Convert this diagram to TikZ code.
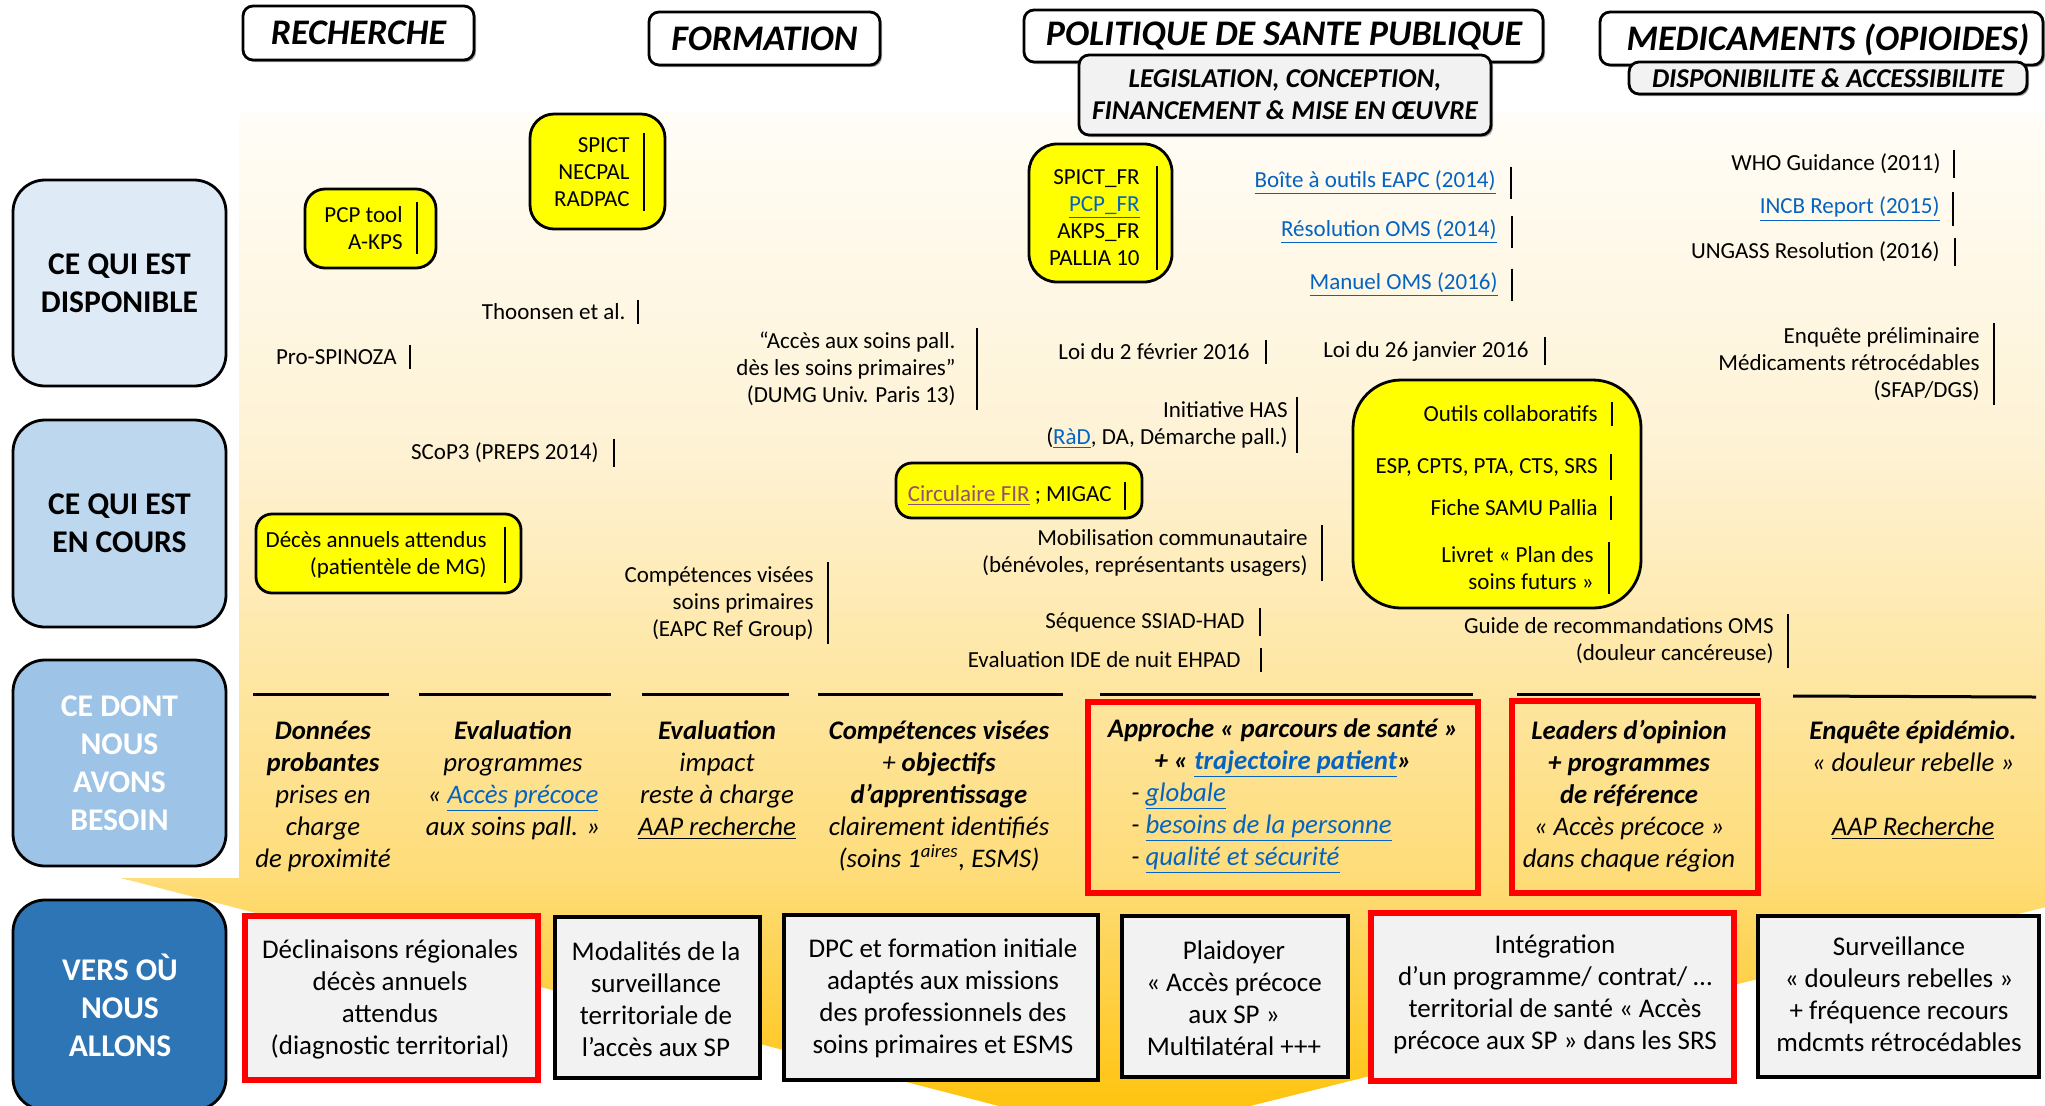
\documentclass[tikz,border=0pt]{standalone}
\usepackage{fontspec}
\setmainfont{Carlito}
\usetikzlibrary{calc,fit,shadows}
\definecolor{linkblue}{HTML}{0563C1}
\definecolor{linkpurple}{HTML}{954F72}
\definecolor{sideA}{HTML}{DEEBF7}
\definecolor{sideB}{HTML}{BDD7EE}
\definecolor{sideC}{HTML}{9DC3E6}
\definecolor{sideD}{HTML}{2E75B6}
\definecolor{boxgray}{HTML}{F2F2F2}
\definecolor{bgA}{HTML}{FFFDF7}
\definecolor{bgB}{HTML}{FEF2D4}
\definecolor{bgC}{HTML}{FEDC78}
\definecolor{bgD}{HTML}{FFC000}
\definecolor{ylw}{HTML}{FFFF00}
\newcommand{\lnk}[1]{\textcolor{linkblue}{\underline{#1}}}
\newcommand{\refitem}[5]{\node[ref] (#1) at (#2,#3) {#5};
  \draw[bar] ($(#1.north east)+(#4,0)$) -- ($(#1.south east)+(#4,0)$);}
\begin{document}
\begin{tikzpicture}[x=0.5pt,y=-0.5pt,
  ref/.style={font=\fontsize{11.5}{13.5}\selectfont, align=right, inner xsep=0pt, inner ysep=2pt, anchor=east},
  bar/.style={line width=1.3pt},
  sepline/.style={line width=1.5pt},
  hdr/.style={draw, line width=1.4pt, rounded corners=5pt, fill=white, inner sep=0pt,
    drop shadow={shadow xshift=1pt, shadow yshift=-1pt, fill=black!60, opacity=0.6}},
  hdrsub/.style={hdr, fill=boxgray},
  hdrtxt/.style={font=\fontsize{18}{20}\selectfont\bfseries\itshape, inner sep=0pt},
  subtxt/.style={font=\fontsize{13.6}{16}\selectfont\bfseries\itshape, align=center, inner sep=0pt},
  side/.style={draw, line width=1.4pt, rounded corners=16pt, inner sep=0pt},
  sidetxt/.style={font=\fontsize{15.8}{19}\selectfont\bfseries, align=center, inner sep=0pt},
  ybox/.style={draw, line width=1.4pt, fill=ylw, inner sep=0pt},
  need/.style={font=\fontsize{13.4}{16}\selectfont\itshape, align=center, inner sep=0pt},
  redbox/.style={draw=red, line width=3pt, inner sep=0pt},
  goal/.style={draw, line width=1.8pt, fill=boxgray, inner sep=0pt},
  goalred/.style={goal, draw=red, line width=3pt},
  goaltxt/.style={font=\fontsize{13.5}{16}\selectfont, align=center, inner sep=0pt}
]
\useasboundingbox (0,0) rectangle (2045,1105);

% background arrow
\begin{scope}
\clip (239,113) -- (2200,113) -- (2200,878) -- (2162,878) -- (1122,1138) -- (121,878) -- (239,878) -- cycle;
\shade[top color=bgA, bottom color=bgB] (0,112) rectangle (2200,451);
\shade[top color=bgB, bottom color=bgC] (0,450) rectangle (2200,879);
\shade[top color=bgC, bottom color=bgD] (0,878) rectangle (2200,1140);
\end{scope}

% headers
\node[hdr, fit={(243,6) (474,60)}] (hRech) {};
\node[hdrtxt] (tRech) at (hRech.center) {RECHERCHE};
\node[hdr, fit={(649,12) (880,65)}] (hForm) {};
\node[hdrtxt] (tForm) at (hForm.center) {FORMATION};
\node[hdr, fit={(1024,10) (1543,62)}] (hPol) {};
\node[hdrtxt] (tPol) at (1284,36) {POLITIQUE DE SANTE PUBLIQUE};
\node[hdrsub, fit={(1079,55) (1491,135)}] (hLeg) {};
\node[subtxt] (tLeg) at (hLeg.center) {LEGISLATION, CONCEPTION,\\FINANCEMENT \& MISE EN ŒUVRE};
\node[hdr, fit={(1600,12) (2043,65)}] (hMed) {};
\node[hdrtxt] (tMed) at (1828,40) {MEDICAMENTS (OPIOIDES)};
\node[hdrsub, fit={(1629,62) (2027,94)}] (hDisp) {};
\node[subtxt] (tDisp) at (hDisp.center) {DISPONIBILITE \& ACCESSIBILITE};

% side labels
\node[side, fill=sideA, fit={(13,180) (226,386)}] (sA) {};
\node[sidetxt] (tsA) at (sA.center) {CE QUI EST\\DISPONIBLE};
\node[side, fill=sideB, fit={(13,420) (226,627)}] (sB) {};
\node[sidetxt] (tsB) at (sB.center) {CE QUI EST\\EN COURS};
\node[side, fill=sideC, fit={(13,660) (226,866)}] (sC) {};
\node[sidetxt, text=white] (tsC) at (sC.center) {CE DONT\\NOUS\\AVONS\\BESOIN};
\node[side, fill=sideD, fit={(13,900) (226,1110)}] (sD) {};
\node[sidetxt, text=white] (tsD) at (120,1005) {VERS OÙ\\NOUS\\ALLONS};

% yellow boxes
\node[ybox, rounded corners=10pt, fit={(305,189) (436,268)}] (yPCP) {};
\node[ybox, rounded corners=12pt, fit={(530,114) (665,229)}] (ySPICT) {};
\node[ybox, rounded corners=14pt, fit={(1029,144) (1172,282)}] (ySPFR) {};
\node[ybox, rounded corners=8pt, fit={(896,463) (1142,518)}] (yFIR) {};
\node[ybox, rounded corners=8pt, fit={(256,514) (521,593)}] (yDeces) {};
\node[ybox, rounded corners=24pt, fit={(1353,380) (1641,608)}] (yOut) {};

% references
\refitem{tPCP}{403}{228}{14}{PCP tool\\A-KPS}
\refitem{tSPICT}{630}{172}{14}{SPICT\\NECPAL\\RADPAC}
\refitem{tThoon}{626}{312}{12}{Thoonsen et al.}
\refitem{tPro}{397}{357}{13}{Pro-SPINOZA}
\refitem{tAcces}{956}{369}{21}{“Accès aux soins pall.\\dès les soins primaires”\\(DUMG Univ. Paris 13)}
\refitem{tSCoP}{599}{453}{15}{SCoP3 (PREPS 2014)}
\refitem{tDeces}{487}{555}{18}{Décès annuels attendus\\(patientèle de MG)}
\refitem{tComp}{814}{603}{14}{Compétences visées\\soins primaires\\(EAPC Ref Group)}
\refitem{tSPFR}{1140}{218}{17}{SPICT\_FR\\\lnk{PCP\_FR}\\AKPS\_FR\\PALLIA 10}
\refitem{tEAPC}{1496}{183}{15}{\lnk{Boîte à outils EAPC (2014)}}
\refitem{tResol}{1497}{232}{15}{\lnk{Résolution OMS (2014)}}
\refitem{tManuel}{1498}{285}{14}{\lnk{Manuel OMS (2016)}}
\refitem{tLoiA}{1250}{352}{16}{Loi du 2 février 2016}
\refitem{tLoiB}{1529}{351}{16}{Loi du 26 janvier 2016}
\refitem{tHAS}{1288}{425}{9}{Initiative HAS\\(\lnk{RàD}, DA, Démarche pall.)}
\refitem{tFIR}{1112}{496}{13}{\textcolor{linkpurple}{\underline{Circulaire FIR}} ; MIGAC}
\refitem{tMob}{1308}{553}{14}{Mobilisation communautaire\\(bénévoles, représentants usagers)}
\refitem{tSSIAD}{1245}{622}{15}{Séquence SSIAD-HAD}
\refitem{tEHPAD}{1241}{660}{20}{Evaluation IDE de nuit EHPAD}
\refitem{tWHO}{1941}{164}{13}{WHO Guidance (2011)}
\refitem{tINCB}{1940}{209}{13}{\lnk{INCB Report (2015)}}
\refitem{tUNG}{1940}{252}{15}{UNGASS Resolution (2016)}
\refitem{tEnq}{1980}{364}{14}{Enquête préliminaire\\Médicaments rétrocédables\\(SFAP/DGS)}
\refitem{tOutA}{1598}{414}{14}{Outils collaboratifs}
\refitem{tOutB}{1598}{467}{13}{ESP, CPTS, PTA, CTS, SRS}
\refitem{tOutC}{1598}{508}{13}{Fiche SAMU Pallia}
\refitem{tOutD}{1594}{568}{15}{Livret « Plan des\\soins futurs »}
\refitem{tGuide}{1774}{641}{14}{Guide de recommandations OMS\\(douleur cancéreuse)}

% separators
\coordinate (sa1) at (253,694); \coordinate (sa2) at (389,694);
\coordinate (sb1) at (419,694); \coordinate (sb2) at (611,694);
\coordinate (sc1) at (642,694); \coordinate (sc2) at (789,694);
\coordinate (sd1) at (818,694); \coordinate (sd2) at (1063,694);
\coordinate (se1) at (1100,694); \coordinate (se2) at (1473,694);
\coordinate (sf1) at (1517,694); \coordinate (sf2) at (1760,694);
\coordinate (sg1) at (1793,696); \coordinate (sg2) at (2036,697);
\draw[sepline] (sa1) -- (sa2);
\draw[sepline] (sb1) -- (sb2);
\draw[sepline] (sc1) -- (sc2);
\draw[sepline] (sd1) -- (sd2);
\draw[sepline] (se1) -- (se2);
\draw[sepline] (sf1) -- (sf2);
\draw[sepline] (sg1) -- (sg2);

% needs row
\node[need] (nA) at (323,796) {\textbf{Données}\\\textbf{probantes}\\prises en\\charge\\de proximité};
\node[need] (nB) at (513,780) {\textbf{Evaluation}\\programmes\\« \lnk{Accès précoce}\\aux soins pall. »};
\node[need] (nC) at (717,780) {\textbf{Evaluation}\\impact\\reste à charge\\\underline{AAP recherche}};
\node[need] (nD) at (939,796) {\textbf{Compétences visées}\\+ \textbf{objectifs}\\\textbf{d’apprentissage}\\clairement identifiés\\(soins 1\textsuperscript{aires}, ESMS)};
\node[redbox, fit={(1088,702) (1478,893)}] (rE) {};
\node[need] (nE) at (1283,748) {\textbf{Approche « parcours de santé »}\\\textbf{+ « \lnk{trajectoire patient}»}};
\node[need, align=left, anchor=west] (nE2) at (1131,828) {- \lnk{globale}\\- \lnk{besoins de la personne}\\- \lnk{qualité et sécurité}};
\node[redbox, fit={(1512,701) (1758,893)}] (rF) {};
\node[need] (nF) at (1629,796) {\textbf{Leaders d’opinion}\\\textbf{+ programmes}\\\textbf{de référence}\\« Accès précoce »\\dans chaque région};
\node[need] (nG) at (1913,780) {\textbf{Enquête épidémio.}\\« douleur rebelle »\\[16pt]\underline{AAP Recherche}};

% goals row
\node[goalred, fit={(245,916) (538,1080)}] (gA) {};
\node[goaltxt] (tgA) at (390,999) {Déclinaisons régionales\\décès annuels\\attendus\\(diagnostic territorial)};
\node[goal, fit={(555,917) (760,1078)}] (gB) {};
\node[goaltxt] (tgB) at (656,999) {Modalités de la\\surveillance\\territoriale de\\l’accès aux SP};
\node[goal, fit={(784,915) (1098,1080)}] (gC) {};
\node[goaltxt] (tgC) at (943,998) {DPC et formation initiale\\adaptés aux missions\\des professionnels des\\soins primaires et ESMS};
\node[goal, fit={(1122,916) (1348,1077)}] (gD) {};
\node[goaltxt] (tgD) at (1234,998) {Plaidoyer\\« Accès précoce\\aux SP »\\Multilatéral +++};
\node[goalred, fit={(1371,913) (1734,1081)}] (gE) {};
\node[goaltxt] (tgE) at (1555,994) {Intégration\\d’un programme/ contrat/ …\\territorial de santé « Accès\\précoce aux SP » dans les SRS};
\node[goal, fit={(1758,916) (2039,1077)}] (gF) {};
\node[goaltxt] (tgF) at (1899,994) {Surveillance\\« douleurs rebelles »\\+ fréquence recours\\mdcmts rétrocédables};
\end{tikzpicture}
\end{document}
